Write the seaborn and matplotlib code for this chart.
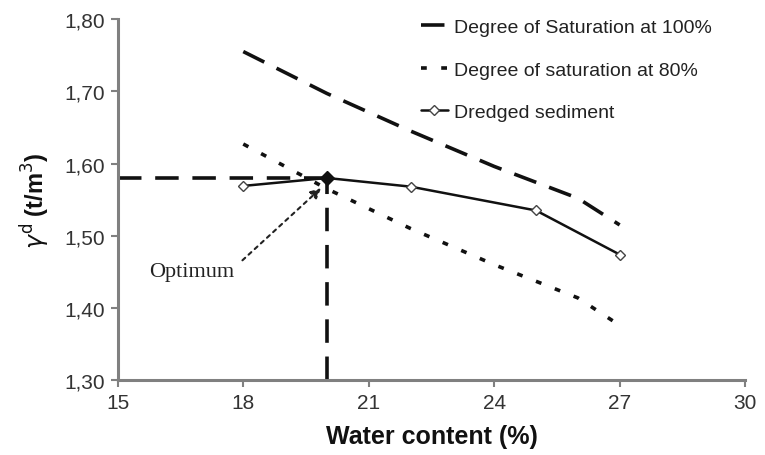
import matplotlib
matplotlib.use("Agg")
import matplotlib.pyplot as plt
import seaborn as sns
import pandas as pd
from matplotlib.ticker import FuncFormatter

sns.set_theme(style="white")
plt.rcParams['font.family'] = ['Liberation Sans', 'DejaVu Sans']

# Data
sat100_w = [18, 20, 22, 24, 26, 27]
sat100_g = [1.755, 1.697, 1.645, 1.596, 1.552, 1.515]
sat80_w = [18, 20, 22, 24, 26, 27]
sat80_g = [1.627, 1.565, 1.510, 1.460, 1.414, 1.376]
sed_w = [18, 20, 22, 25, 27]
sed_g = [1.569, 1.580, 1.568, 1.535, 1.474]
opt_w = 20
opt_g = 1.58
x_ticks = [15, 18, 21, 24, 27, 30]
y_ticks = [1.30, 1.40, 1.50, 1.60, 1.70, 1.80]

fig = plt.figure(figsize=(7.65, 4.56), dpi=100)
ax = fig.add_axes([0.154, 0.164, 0.82, 0.792])

DASH = (0, (6.5, 3.8))
DOT = (0, (1.6, 4.0))

sns.lineplot(x=sat100_w, y=sat100_g, ax=ax, color='#111111', lw=2.6,
             linestyle=DASH, label='Degree of Saturation at 100%')
sns.lineplot(x=sat80_w, y=sat80_g, ax=ax, color='#111111', lw=2.6,
             linestyle=DOT, label='Degree of saturation at 80%')
sns.lineplot(x=sed_w, y=sed_g, ax=ax, color='#111111', lw=1.8,
             marker='D', markersize=5, markerfacecolor='white',
             markeredgecolor='#444444', markeredgewidth=1.0,
             label='Dredged sediment')

# optimum guides
ax.plot([15, opt_w], [opt_g, opt_g], color='#111111', lw=2.6,
        linestyle=DASH, zorder=1)
ax.plot([opt_w, opt_w], [1.30, opt_g], color='#111111', lw=2.6,
        linestyle=DASH, zorder=1)
ax.plot([opt_w], [opt_g], marker='D', color='#111111', markersize=7, zorder=5)

ax.annotate('', xy=(19.86, 1.566), xytext=(17.98, 1.466),
            arrowprops=dict(arrowstyle='-|>', color='#222222', lw=1.5,
                            linestyle=(0, (1.8, 2.2)), shrinkA=0, shrinkB=0,
                            mutation_scale=15))
ax.text(16.77, 1.451, 'Optimum', fontsize=16, family='Liberation Serif',
        color='#222222', ha='center', va='center')

ax.set_xlim(15, 30)
ax.set_ylim(1.30, 1.80)
ax.set_xticks(x_ticks)
ax.set_yticks(y_ticks)
ax.yaxis.set_major_formatter(FuncFormatter(lambda v, p: f"{v:.2f}".replace('.', ',')))

for s in ['top', 'right']:
    ax.spines[s].set_visible(False)
for s in ['left', 'bottom']:
    ax.spines[s].set_color('#808080')
    ax.spines[s].set_linewidth(2.2)
ax.tick_params(axis='both', which='major', direction='out', length=5, width=1.5,
               color='#808080', labelsize=15, labelcolor='#333333', bottom=True, left=True,
               pad=4)

ax.set_xlabel('Water content (%)', fontsize=18, fontweight='bold', color='#111111', labelpad=9)
ax.set_ylabel(r'$\gamma^{\rm d}$ (t/m$^{3}$)', fontsize=17, fontweight='bold', color='#111111', labelpad=9)

leg = ax.legend(loc='upper left', bbox_to_anchor=(0.455, 1.05), frameon=False,
                fontsize=14, handlelength=1.4, labelspacing=1.28, handletextpad=0.3,
                borderpad=0.4)
for t in leg.get_texts():
    t.set_color('#222222')

fig.savefig('out.png', dpi=100)
